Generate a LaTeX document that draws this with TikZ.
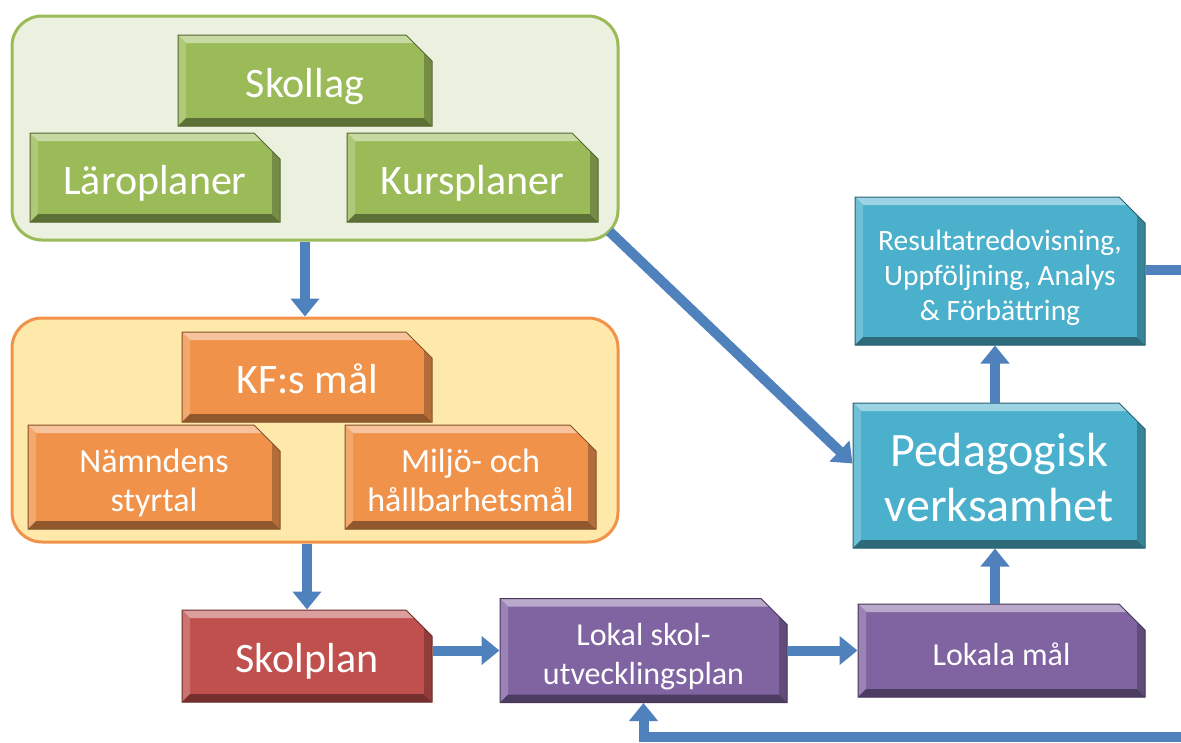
\documentclass[tikz,border=0pt]{standalone}
\usepackage{fontspec}
\setmainfont{Carlito}
\usetikzlibrary{arrows.meta,shapes.misc,positioning}
\definecolor{grnbox}{HTML}{9BBB59}
\definecolor{grnpan}{HTML}{EBF1DE}
\definecolor{orabox}{HTML}{F0924A}
\definecolor{orapan}{HTML}{FFE9AA}
\definecolor{redbox}{HTML}{C0504D}
\definecolor{purbox}{HTML}{8064A2}
\definecolor{tealbox}{HTML}{4BB0CC}
\definecolor{flowc}{HTML}{4F81BD}
\newcommand{\btext}[1]{\raisebox{-7pt}[\height][\depth]{\begin{tabular}{@{}c@{}}#1\end{tabular}}}

\begin{document}
\begin{tikzpicture}[x=1pt,y=-1pt,
  bevel/.style={chamfered rectangle, chamfered rectangle corners=north east,
    chamfered rectangle sep=13pt, inner sep=0pt, fill=#1, draw=#1!55!black,
    line width=1pt, text=white,
    path picture={
      \path (path picture bounding box.north west) coordinate (pnw)
            (path picture bounding box.north east) coordinate (pne)
            (path picture bounding box.south west) coordinate (psw)
            (path picture bounding box.south east) coordinate (pse);
      \fill[#1!55!white] (pnw) -- (pne) -- ([shift={(-8pt,-8pt)}]pne) -- ([shift={(8pt,-8pt)}]pnw) -- cycle;
      \fill[#1!80!white] (pnw) -- ([shift={(8pt,-8pt)}]pnw) -- ([shift={(8pt,8pt)}]psw) -- (psw) -- cycle;
      \fill[#1!60!black] (psw) -- (pse) -- ([shift={(-8pt,8pt)}]pse) -- ([shift={(8pt,8pt)}]psw) -- cycle;
      \fill[#1!75!black] (pse) -- (pne) -- ([shift={(-8pt,-8pt)}]pne) -- ([shift={(-8pt,8pt)}]pse) -- cycle;
    }},
  panel/.style={rectangle, rounded corners=30pt, minimum width=606pt,
    minimum height=224pt, line width=3pt},
  big/.style={font=\fontsize{42}{48}\selectfont},
  huge/.style={font=\fontsize{48}{55}\selectfont},
  mid/.style={font=\fontsize{34}{39}\selectfont},
  small/.style={font=\fontsize{32}{39}\selectfont},
  tiny/.style={font=\fontsize{29.5}{35}\selectfont},
  flow/.style={draw=flowc, line width=10pt, -{Triangle[width=28pt,length=18pt]}},
  flowline/.style={draw=flowc, line width=10pt}]
\useasboundingbox (0,0) rectangle (1181,742);

\node[panel, fill=grnpan, draw=grnbox] (lag) at (315,128) {};
\node[panel, fill=orapan, draw=orabox] (kommun) at (315,430) {};

\node[bevel=grnbox, minimum width=254pt, minimum height=91pt, big] (skollag) at (305,80.5) {\btext{Skollag}};
\node[bevel=grnbox, minimum width=250pt, minimum height=89pt, big] (laro) at (155,177.5) {\btext{Läroplaner}};
\node[bevel=grnbox, minimum width=251pt, minimum height=89pt, big] (kurs) at (472.5,177.5) {\btext{Kursplaner}};

\node[bevel=orabox, minimum width=250pt, minimum height=90pt, big] (kf) at (307,377) {\btext{KF:s mål}};
\node[bevel=orabox, minimum width=252pt, minimum height=90pt, mid] (namnd) at (154,477) {\btext{Nämndens\\styrtal}};
\node[bevel=orabox, minimum width=251pt, minimum height=90pt, mid] (miljo) at (470.5,477) {\btext{Miljö- och\\hållbarhetsmål}};

\node[bevel=redbox, minimum width=250pt, minimum height=92pt, big] (skolplan) at (307,656) {\btext{Skolplan}};
\node[bevel=purbox, minimum width=287pt, minimum height=93pt, small] (lokalskol) at (643.5,650.5) {\btext{Lokal skol-\\utvecklingsplan}};
\node[bevel=purbox, minimum width=287pt, minimum height=93pt, small] (lokalamal) at (1001.5,650.5) {\btext{Lokala mål}};
\node[bevel=tealbox, minimum width=292pt, minimum height=145pt, huge] (peda) at (999,475.5) {\btext{Pedagogisk\\verksamhet}};
\node[bevel=tealbox, minimum width=290pt, minimum height=148pt, tiny] (result) at (1000,271) {\btext{Resultatredovisning,\\Uppföljning, Analys\\\& Förbättring}};

\coordinate (outR) at (1181,270);
\coordinate (outB) at (1181,737);

\draw[flow] (lag.south -| skollag.south) -- (kommun.north -| skollag.south);
\draw[flow] (kommun.south -| skolplan.north) -- (skolplan.north);
\draw[flow] (skolplan.east |- lokalskol.west) -- (lokalskol.west);
\draw[flow] (lokalskol.east) -- (lokalamal.west);
\draw[flow] (lokalamal.north -| 995,0) -- (peda.south -| 995,0);
\draw[flow] (peda.north -| 995,0) -- (result.south -| 995,0);
\draw[flow] ([xshift=-10pt,yshift=10pt]lag.south east) -- ([yshift=12pt]peda.west);
\draw[flowline] (result.east |- outR) -- (outR);
\draw[flow] (outB) -| (lokalskol.south);
\end{tikzpicture}
\end{document}
